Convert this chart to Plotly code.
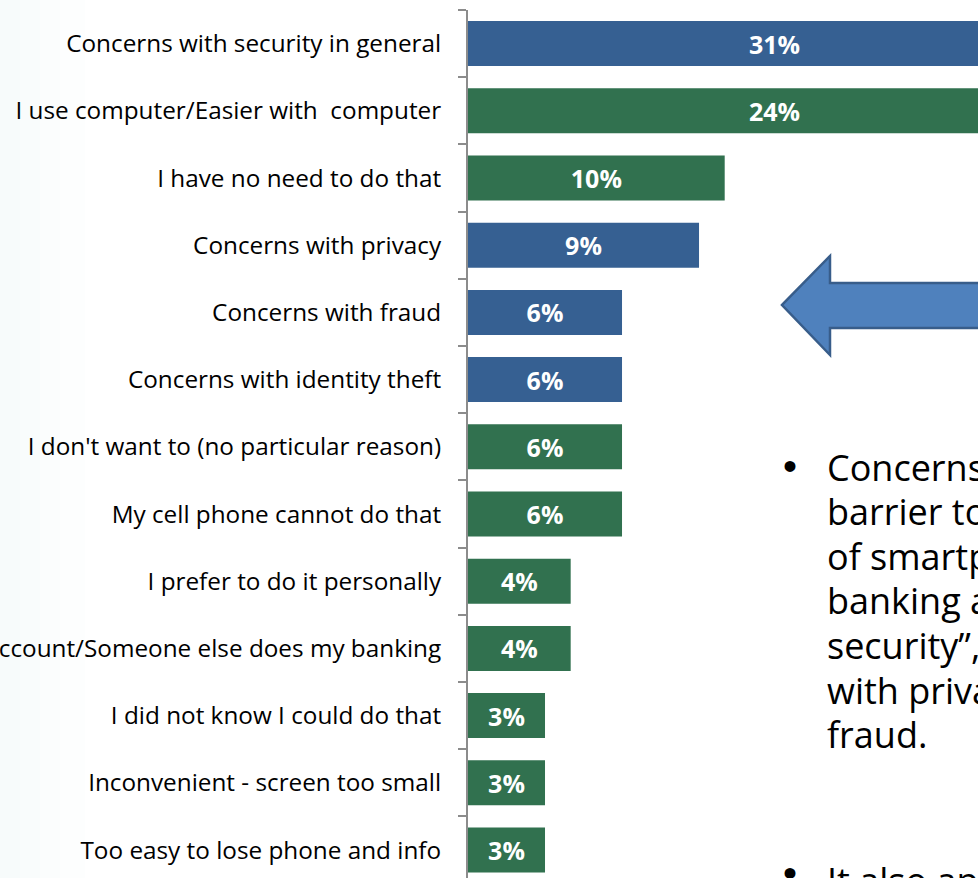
import plotly.graph_objects as go

# ---- data ----
categories = [
    "Concerns with security in general",
    "I use computer/Easier with  computer",
    "I have no need to do that",
    "Concerns with privacy",
    "Concerns with fraud",
    "Concerns with identity theft",
    "I don't want to (no particular reason)",
    "My cell phone cannot do that",
    "I prefer to do it personally",
    "I don't have a bank account/Someone else does my banking",
    "I did not know I could do that",
    "Inconvenient - screen too small",
    "Too easy to lose phone and info",
]
values = [31, 24, 10, 9, 6, 6, 6, 6, 4, 4, 3, 3, 3]
groups = ["security", "other", "other", "security", "security", "security",
          "other", "other", "other", "other", "other", "other", "other"]

bullet_lines = [
    "Concerns with security are the largest",
    "barrier to the adoption",
    "of smartphone mobile",
    "banking are \u201cgeneral",
    "security\u201d, followed by concerns",
    "with privacy, identity theft and",
    "fraud.",
]
bullet2 = "It also appears that many customers"

# ---- style ----
BLUE = "#366092"
GREEN = "#31714F"
color_map = {"security": BLUE, "other": GREEN}
FONT = "Open Sans"

W, H = 978, 878
L, R, T, B = 468, 0, 10, 0
PW, PH = W - L - R, H - T - B
PX_PER_PCT = 25.67
XMAX = PW / PX_PER_PCT
ROW_PX = 67.2
rows_visible = PH / ROW_PX

def px(x):
    return (x - L) / PW

def py(y):
    return 1 - (y - T) / PH

bar_colors = [color_map[g] for g in groups]
bar_text = [f"{v}%" if v <= XMAX else "" for v in values]

fig = go.Figure()
fig.add_trace(go.Bar(
    x=values,
    y=categories,
    orientation="h",
    marker=dict(color=bar_colors, line=dict(width=0)),
    text=bar_text,
    textposition="inside",
    insidetextanchor="middle",
    textfont=dict(family=FONT, size=25, color="white", weight="bold"),
    cliponaxis=True,
    hoverinfo="skip",
))

annotations = []
# labels of bars that run beyond the visible range
for cat, v in zip(categories, values):
    if v > XMAX:
        annotations.append(dict(
            x=11.95, y=cat, xref="x", yref="y", text=f"<b>{v}%</b>",
            showarrow=False, font=dict(family=FONT, size=25, color="white"),
            xanchor="center", yanchor="middle"))

# bullet text block
line_y0, line_dy = 467, 44.6
BUL_FONT = dict(family="Liberation Sans", size=40, color="black")
annotations.append(dict(x=px(790), y=py(line_y0 - 1), xref="paper", yref="paper",
                        text="\u2022", showarrow=False, xanchor="center", yanchor="middle",
                        font=BUL_FONT))
for i, line in enumerate(bullet_lines):
    annotations.append(dict(x=px(825), y=py(line_y0 + i * line_dy), xref="paper", yref="paper",
                            text=line, showarrow=False, xanchor="left", yanchor="middle",
                            font=dict(family=FONT, size=36, color="black")))
annotations.append(dict(x=px(790), y=py(873), xref="paper", yref="paper",
                        text="\u2022", showarrow=False, xanchor="center", yanchor="middle",
                        font=BUL_FONT))
annotations.append(dict(x=px(825), y=py(880), xref="paper", yref="paper",
                        text=bullet2, showarrow=False, xanchor="left", yanchor="middle",
                        font=dict(family=FONT, size=36, color="black")))

shapes = []
# faint slide background gradient at the far left
for x1 in (20, 40, 60, 85):
    shapes.append(dict(type="rect", xref="paper", yref="paper",
                       x0=px(-20), x1=px(x1), y0=py(900), y1=py(-20),
                       fillcolor="#dde6e6", opacity=0.06, line=dict(width=0),
                       layer="below"))
# block arrow pointing left
arrow_pts = [(782, 305), (830, 256), (830, 283), (1000, 283),
             (1000, 328), (830, 328), (830, 355)]
path = "M " + " L ".join(f"{px(a):.5f},{py(b):.5f}" for a, b in arrow_pts) + " Z"
shapes.append(dict(type="path", xref="paper", yref="paper", path=path,
                   fillcolor="#4F81BD", line=dict(color="#385D8A", width=2.5)))

fig.update_layout(
    width=W, height=H,
    margin=dict(l=L, r=R, t=T, b=B, pad=0),
    paper_bgcolor="white", plot_bgcolor="rgba(0,0,0,0)",
    showlegend=False,
    bargap=0.33,
    xaxis=dict(range=[0, XMAX], visible=False, fixedrange=True),
    yaxis=dict(
        type="category",
        range=[-0.5 + rows_visible, -0.5],
        showline=True, linecolor="#8c8c8c", linewidth=2,
        ticks="outside", tickson="boundaries", ticklen=8, tickcolor="#8c8c8c", tickwidth=1.5,
        ticklabelstandoff=20,
        tickfont=dict(family=FONT, size=24.3, color="black"),
        showgrid=False, zeroline=False, automargin=False,
    ),
    annotations=annotations,
    shapes=shapes,
)

fig.write_html(
    "out.html",
    config={"displayModeBar": False},
    post_script=("document.body.style.margin='0';"
                 "document.body.style.overflow='hidden';"
                 "document.documentElement.style.overflow='hidden';"),
)
